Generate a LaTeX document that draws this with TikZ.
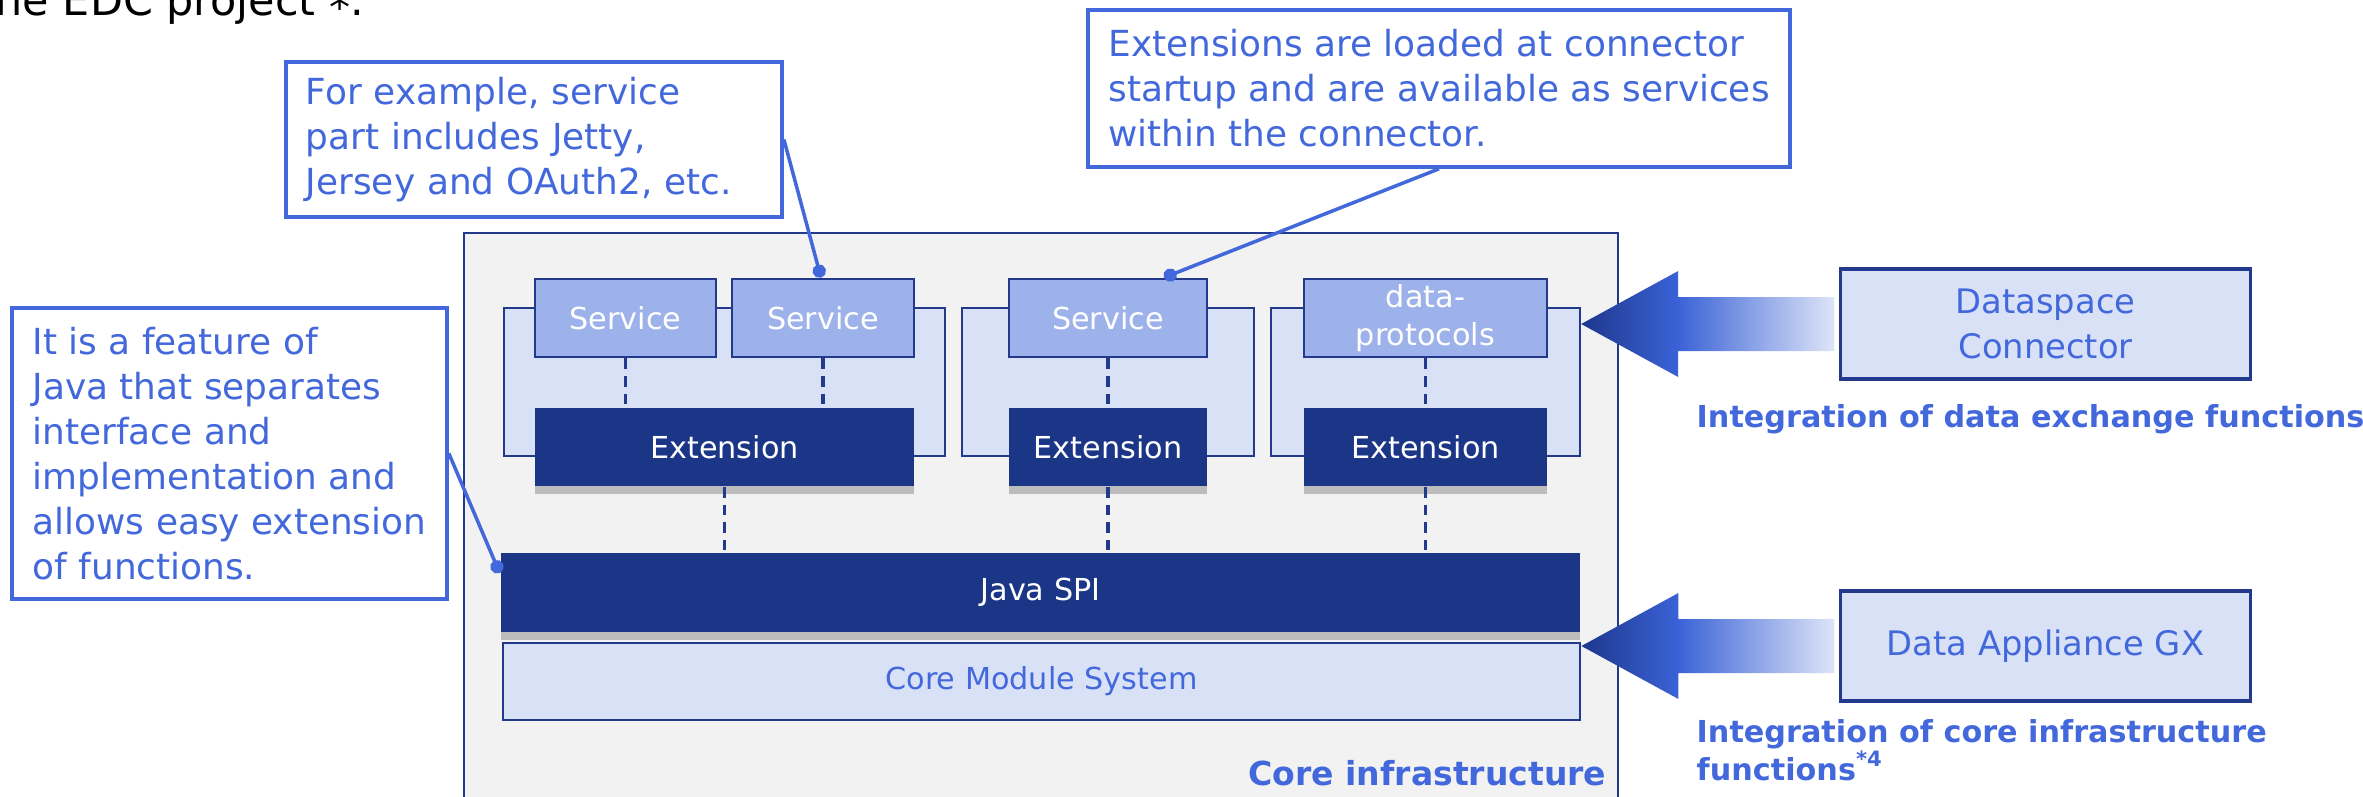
\documentclass[tikz,border=0pt]{standalone}
\usepackage{fontspec}
\setmainfont{DejaVu Sans}
\usetikzlibrary{shapes,shadows,calc,arrows.meta}

\definecolor{navy}{RGB}{27,54,135}
\definecolor{navyline}{RGB}{35,58,140}
\definecolor{royal}{RGB}{66,104,220}
\definecolor{panelfill}{RGB}{217,225,247}
\definecolor{servfill}{RGB}{157,178,234}
\definecolor{corefill}{RGB}{242,242,242}
\definecolor{arrtip}{RGB}{30,55,140}
\definecolor{arrmid}{RGB}{58,98,214}
\definecolor{arrtail}{RGB}{222,229,248}
\pgfdeclarehorizontalshading{fatarrow}{100bp}{color(0bp)=(arrtip); color(25bp)=(arrtip); color(44bp)=(arrmid); color(75bp)=(arrtail); color(100bp)=(arrtail)}

\begin{document}
\begin{tikzpicture}[x=0.01cm,y=-0.01cm]
\tikzstyle{box}=[rectangle,draw=navyline,line width=0.6pt,inner sep=0pt,align=center]
\tikzstyle{core}=[box,fill=corefill,minimum width=11.54cm,minimum height=5.77cm]
\tikzstyle{group}=[box,fill=panelfill,minimum height=1.48cm]
\tikzstyle{service}=[box,fill=servfill,line width=0.8pt,minimum height=0.78cm,text=white,font=\fontsize{8.6pt}{10.8pt}\selectfont]
\tikzstyle{ext}=[box,draw=none,fill=navy,text=white,minimum height=0.78cm,font=\fontsize{8.6pt}{10.8pt}\selectfont,drop shadow={shadow xshift=0pt,shadow yshift=-2.4pt,fill=black!40,opacity=0.6}]
\tikzstyle{partner}=[box,fill=panelfill,line width=0.9pt,minimum width=4.09cm,minimum height=1.1cm,text=royal,font=\fontsize{9.6pt}{12.8pt}\selectfont]
\tikzstyle{note}=[rectangle,draw=royal,line width=1pt,fill=white,text=royal,align=left,inner xsep=0.2cm,inner ysep=0pt,font=\fontsize{10.2pt}{12.8pt}\selectfont]
\tikzstyle{caption}=[text=royal,font=\bfseries\fontsize{8.6pt}{10.8pt}\selectfont,inner sep=0pt,align=left]
\tikzstyle{dashline}=[navyline,line width=0.9pt,dash pattern=on 3pt off 2pt]
\tikzstyle{pointer}=[royal,line width=1pt,-{Circle[length=3.8pt]}]

\useasboundingbox (0,0) rectangle (2363,797);

\node[anchor=base west,inner sep=0pt,font=\fontsize{12.2pt}{14pt}\selectfont] (title) at (-5,15) {ne EDC project {\fontsize{12pt}{12pt}\selectfont\raisebox{-2pt}{*}}.};

\node[core] (core) at (1041,521.5) {};
\node[group,minimum width=4.41cm] (P1) at (724.5,382) {};
\node[group,minimum width=2.92cm] (P2) at (1108,382) {};
\node[group,minimum width=3.09cm] (P3) at (1425.5,382) {};

\node[service,minimum width=1.81cm] (S1) at (625.5,318) {Service};
\node[service,minimum width=1.82cm] (S2) at (823,318) {Service};
\node[service,minimum width=1.98cm] (S3) at (1108,318) {Service};
\node[service,minimum width=2.43cm] (S4) at (1425.5,318) {data-\\protocols};

\node[ext,minimum width=3.79cm] (E1) at (724.5,447) {Extension};
\node[ext,minimum width=1.98cm] (E2) at (1108,447) {Extension};
\node[ext,minimum width=2.43cm] (E3) at (1425.5,447) {Extension};

\node[ext,minimum width=10.79cm,minimum height=0.79cm] (SPI) at (1040.5,592.5) {Java SPI};
\node[box,fill=panelfill,text=royal,minimum width=10.77cm,minimum height=0.77cm,font=\fontsize{8.6pt}{10.8pt}\selectfont] (CMS) at (1041.5,681.5) {Core Module System};
\node[caption,font=\bfseries\fontsize{9.4pt}{11pt}\selectfont,anchor=base east] (CI) at (1607,785) {Core infrastructure};

\path[dashline] (S1.south) edge (S1.south |- E1.north)
      (S2.south) edge (S2.south |- E1.north)
      (S3) edge (E2)
      (S4) edge (E3)
      (E1.south) edge (E1.south |- SPI.north)
      (E2.south) edge (E2.south |- SPI.north)
      (E3.south) edge (E3.south |- SPI.north);

\node[partner] (DSC) at (2045.5,324) {Dataspace\\Connector};
\node[partner] (DAGX) at (2045.5,646) {Data Appliance GX};
\node[caption,anchor=base west] (L1) at (1696,427) {Integration of data exchange functions};
\node[caption,anchor=base west] (L2) at (1696,780) {Integration of core infrastructure\\functions\textsuperscript{*4}};

\coordinate (T1) at (DSC.west -| P3.east);
\coordinate (T2) at (DAGX.west -| CMS.east);
\shade[shading=fatarrow] (T1) -- ($(T1)+(97,-53)$) -- ($(T1)+(97,-27)$) -- ($(DSC.west)+(-5,-27)$)
      -- ($(DSC.west)+(-5,27)$) -- ($(T1)+(97,27)$) -- ($(T1)+(97,53)$) -- cycle;
\shade[shading=fatarrow] (T2) -- ($(T2)+(97,-53)$) -- ($(T2)+(97,-27)$) -- ($(DAGX.west)+(-5,-27)$)
      -- ($(DAGX.west)+(-5,27)$) -- ($(T2)+(97,27)$) -- ($(T2)+(97,53)$) -- cycle;

\node[note,text width=4.56cm,minimum height=1.55cm] (C1) at (534,139.5) {For example, service\\part includes Jetty,\\Jersey and OAuth2, etc.};
\node[note,minimum width=7.02cm,minimum height=1.57cm] (C2) at (1439,88.5) {Extensions are loaded at connector\\startup and are available as services\\within the connector.};
\node[note,minimum width=4.35cm,minimum height=2.91cm] (C3) at (229.5,453.5) {It is a feature of\\Java that separates\\interface and\\implementation and\\allows easy extension\\of functions.};

\path[pointer] (C1.east) edge ([xshift=-0.02cm]S2.north)
      (C2.south) edge ([xshift=0.56cm]S3.north)
      (C3.east) edge ([yshift=-0.21cm]SPI.north west);
\end{tikzpicture}
\end{document}
